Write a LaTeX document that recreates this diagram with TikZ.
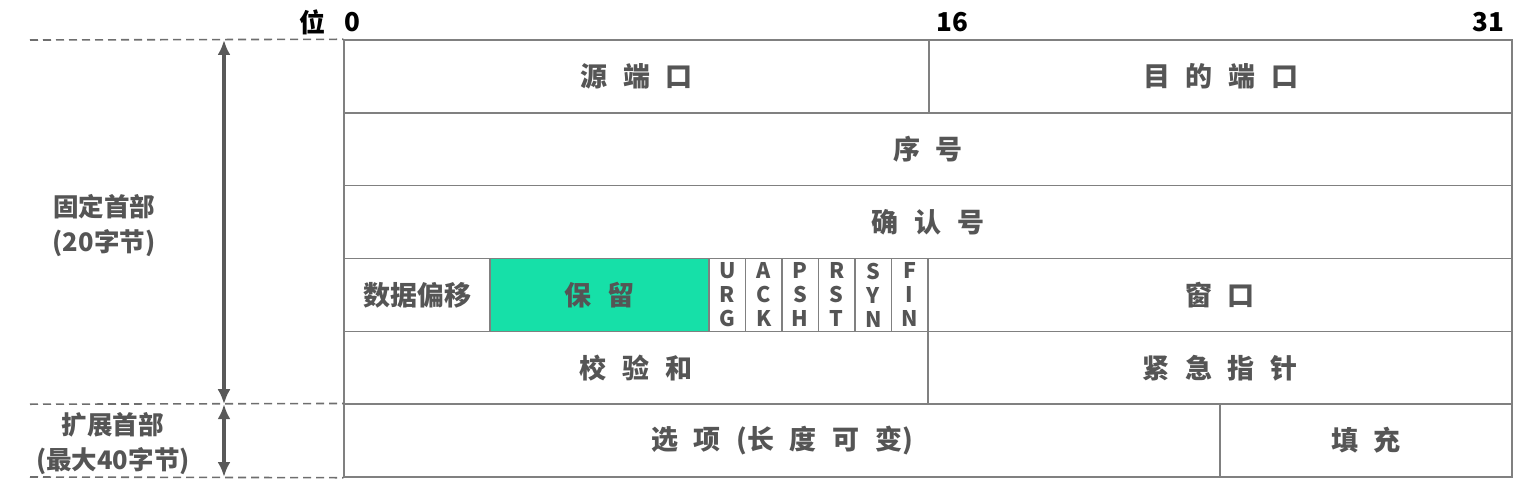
\documentclass[tikz,border=0pt]{standalone}
\usepackage{fontspec}
\setmainfont{Noto Sans CJK SC}
\usetikzlibrary{arrows.meta}
\definecolor{txt}{HTML}{555555}
\definecolor{bord}{HTML}{808080}
\definecolor{dash}{HTML}{6E6E6E}
\definecolor{arr}{HTML}{595959}
\definecolor{resv}{RGB}{22,224,168}
\newcommand\gp{\hspace{0.58em}}
\tikzset{
  cell/.style={draw=bord, line width=1.4pt, rectangle, inner sep=0pt,
    minimum height=72.83pt, text=txt, font=\fontsize{27}{30}\selectfont\bfseries},
  flag/.style={draw=bord, line width=1.4pt, rectangle, inner sep=0pt,
    minimum width=36.5pt, minimum height=72.83pt, text=txt, align=center,
    font=\fontsize{21.5}{24}\selectfont\bfseries},
  toplbl/.style={inner sep=0pt, text=black, font=\fontsize{26}{30}\selectfont\bfseries},
  sidelbl/.style={inner sep=0pt, text=txt, align=center, font=\fontsize{25.5}{35}\selectfont\bfseries},
  dashln/.style={draw=dash, line width=1.6pt, dash pattern=on 8pt off 5pt},
  sizearrow/.style={draw=arr, line width=3.5pt, {Latex[length=15pt,width=13pt]}-{Latex[length=15pt,width=13pt]}}
}
\begin{document}
\begin{tikzpicture}[x=1pt,y=-1pt]
\useasboundingbox (0,0) rectangle (1529,503);
% row 1
\node[cell, minimum width=585pt] (src) at (636.5,76.4) {源\gp 端\gp 口};
\node[cell, minimum width=583pt] (dst) at (1220.5,76.4) {目\gp 的\gp 端\gp 口};
% row 2
\node[cell, minimum width=1168pt] (seq) at (928,149.3) {序\gp 号};
% row 3
\node[cell, minimum width=1168pt] (ack) at (928,222.1) {确\gp 认\gp 号};
% row 4
\node[cell, minimum width=146pt] (off) at (417,294.9) {数据偏移};
\node[cell, minimum width=219pt, fill=resv] (res) at (599.5,294.9) {保\gp 留};
\node[flag] (furg) at (727.25,294.9) {U\\R\\G};
\node[flag] (fack) at (763.75,294.9) {A\\C\\K};
\node[flag] (fpsh) at (800.25,294.9) {P\\S\\H};
\node[flag] (frst) at (836.75,294.9) {R\\S\\T};
\node[flag] (fsyn) at (873.25,294.9) {S\\Y\\N};
\node[flag] (ffin) at (909.75,294.9) {F\\I\\N};
\node[cell, minimum width=584pt] (win) at (1220,294.9) {窗\gp 口};
% row 5
\node[cell, minimum width=584pt] (chk) at (636,367.8) {校\gp 验\gp 和};
\node[cell, minimum width=584pt] (urg) at (1220,367.8) {紧\gp 急\gp 指\gp 针};
% row 6
\node[cell, minimum width=876pt] (opt) at (782,440.6) {选\gp 项\gp (长\gp 度\gp 可\gp 变)};
\node[cell, minimum width=292pt] (pad) at (1366,440.6) {填\gp 充};
% top labels
\node[toplbl] (wei) at (312,22) {位};
\node[toplbl] (b0) at (352,22) {0};
\node[toplbl] (b16) at (952,22) {16};
\node[toplbl] (b31) at (1488,22) {31};
% dashed lines
\coordinate (d1) at (30,40);
\coordinate (d2) at (30,404.2);
\coordinate (d3) at (30,477);
\draw[dashln] (d1) -- (src.north west);
\draw[dashln] (d2) -- (opt.north west);
\draw[dashln] (d3) -- (opt.south west);
% arrows
\coordinate (a1) at (224,40);
\coordinate (a2) at (224,404.2);
\coordinate (a3) at (224,477);
\draw[sizearrow] (a1) -- (a2);
\draw[sizearrow] (a2) -- (a3);
% side labels
\node[sidelbl] (fixed) at (104,225.5) {固定首部\\(20字节)};
\node[sidelbl] (ext) at (113,443.5) {扩展首部\\(最大40字节)};
\end{tikzpicture}
\end{document}
